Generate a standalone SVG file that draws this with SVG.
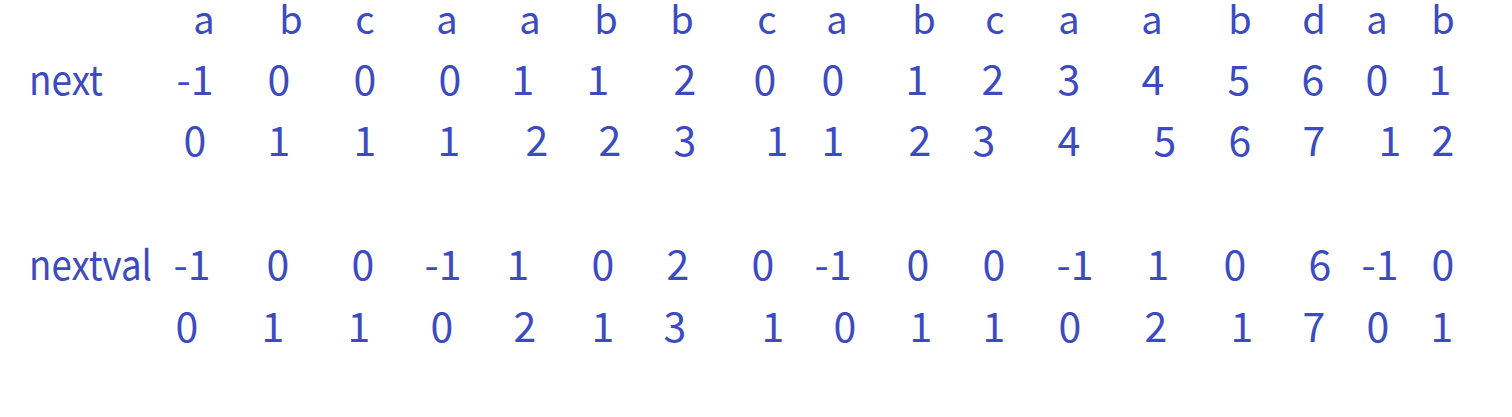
<svg xmlns="http://www.w3.org/2000/svg" width="1512" height="417" viewBox="0 0 1512 417">
<style>
text{font-family:"Noto Sans CJK SC","Noto Sans",sans-serif;fill:#3c4bc0;}
.h{font-size:38px;text-anchor:middle;}
.v{font-size:41px;text-anchor:middle;}
.l{font-size:41px;text-anchor:start;}
</style>
<rect width="1512" height="417" fill="#ffffff"/>
<g id="row-letters">
<text class="h" x="204" y="34">a</text>
<text class="h" x="291" y="34">b</text>
<text class="h" x="365" y="34">c</text>
<text class="h" x="447" y="34">a</text>
<text class="h" x="530" y="34">a</text>
<text class="h" x="606" y="34">b</text>
<text class="h" x="682" y="34">b</text>
<text class="h" x="767" y="34">c</text>
<text class="h" x="837" y="34">a</text>
<text class="h" x="924" y="34">b</text>
<text class="h" x="995" y="34">c</text>
<text class="h" x="1069" y="34">a</text>
<text class="h" x="1152" y="34">a</text>
<text class="h" x="1240" y="34">b</text>
<text class="h" x="1314" y="34">d</text>
<text class="h" x="1377" y="34">a</text>
<text class="h" x="1443" y="34">b</text>
</g>
<g id="row-next">
<text class="l" x="29" y="95" textLength="74" lengthAdjust="spacingAndGlyphs">next</text>
<text class="v" x="195" y="95">-1</text>
<text class="v" x="279" y="95">0</text>
<text class="v" x="365" y="95">0</text>
<text class="v" x="450" y="95">0</text>
<text class="v" x="523" y="95">1</text>
<text class="v" x="598" y="95">1</text>
<text class="v" x="685" y="95">2</text>
<text class="v" x="765" y="95">0</text>
<text class="v" x="833" y="95">0</text>
<text class="v" x="917" y="95">1</text>
<text class="v" x="993" y="95">2</text>
<text class="v" x="1069" y="95">3</text>
<text class="v" x="1153" y="95">4</text>
<text class="v" x="1239" y="95">5</text>
<text class="v" x="1313" y="95">6</text>
<text class="v" x="1377" y="95">0</text>
<text class="v" x="1440" y="95">1</text>
</g>
<g id="row-next-plus1">
<text class="v" x="195" y="156">0</text>
<text class="v" x="279" y="156">1</text>
<text class="v" x="365" y="156">1</text>
<text class="v" x="449" y="156">1</text>
<text class="v" x="537" y="156">2</text>
<text class="v" x="610" y="156">2</text>
<text class="v" x="685" y="156">3</text>
<text class="v" x="777" y="156">1</text>
<text class="v" x="833" y="156">1</text>
<text class="v" x="920" y="156">2</text>
<text class="v" x="984" y="156">3</text>
<text class="v" x="1069" y="156">4</text>
<text class="v" x="1165" y="156">5</text>
<text class="v" x="1240" y="156">6</text>
<text class="v" x="1314" y="156">7</text>
<text class="v" x="1390" y="156">1</text>
<text class="v" x="1443" y="156">2</text>
</g>
<g id="row-nextval">
<text class="l" x="29" y="280" textLength="123" lengthAdjust="spacingAndGlyphs">nextval</text>
<text class="v" x="192" y="280">-1</text>
<text class="v" x="278" y="280">0</text>
<text class="v" x="363" y="280">0</text>
<text class="v" x="443" y="280">-1</text>
<text class="v" x="518" y="280">1</text>
<text class="v" x="603" y="280">0</text>
<text class="v" x="678" y="280">2</text>
<text class="v" x="763" y="280">0</text>
<text class="v" x="833" y="280">-1</text>
<text class="v" x="918" y="280">0</text>
<text class="v" x="994" y="280">0</text>
<text class="v" x="1075" y="280">-1</text>
<text class="v" x="1158" y="280">1</text>
<text class="v" x="1235" y="280">0</text>
<text class="v" x="1320" y="280">6</text>
<text class="v" x="1380" y="280">-1</text>
<text class="v" x="1443" y="280">0</text>
</g>
<g id="row-nextval-plus1">
<text class="v" x="187" y="342">0</text>
<text class="v" x="273" y="342">1</text>
<text class="v" x="359" y="342">1</text>
<text class="v" x="442" y="342">0</text>
<text class="v" x="525" y="342">2</text>
<text class="v" x="603" y="342">1</text>
<text class="v" x="675" y="342">3</text>
<text class="v" x="773" y="342">1</text>
<text class="v" x="845" y="342">0</text>
<text class="v" x="921" y="342">1</text>
<text class="v" x="994" y="342">1</text>
<text class="v" x="1070" y="342">0</text>
<text class="v" x="1156" y="342">2</text>
<text class="v" x="1242" y="342">1</text>
<text class="v" x="1314" y="342">7</text>
<text class="v" x="1378" y="342">0</text>
<text class="v" x="1442" y="342">1</text>
</g>
</svg>
